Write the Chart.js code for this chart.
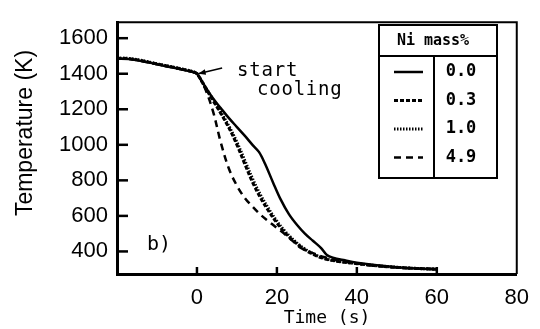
<!DOCTYPE html>
<html>
<head>
<meta charset="utf-8">
<script src="https://cdn.jsdelivr.net/npm/chart.js@4.4.1/dist/chart.umd.min.js"></script>
<style>
  html, body { margin: 0; padding: 0; background: #fff; }
</style>
</head>
<body>
<canvas id="chart" width="540" height="329"></canvas>
<script>
// data
const timeSolid = [-20, -17, -13, -10, -6, -3, -1, 0, 2, 4, 6, 8, 10, 12, 14, 15.5, 17, 19, 21, 23, 25, 27, 29, 31, 32.5, 34, 37, 40, 45, 50, 55, 60];
const tempSolid = [1485, 1483, 1468, 1453, 1435, 1420, 1410, 1400, 1330, 1262, 1205, 1150, 1100, 1050, 997, 960, 895, 790, 690, 610, 550, 500, 460, 420, 380, 365, 350, 337, 322, 311, 304, 300];

const timeNi03 = [-20, -17, -13, -10, -6, -3, -1, 0, 2, 4, 6, 8, 10, 12, 14, 16, 18, 20, 22, 24, 26, 28, 30, 32, 35, 40, 45, 50, 55, 60];
const tempNi03 = [1487, 1485, 1470, 1455, 1437, 1422, 1411, 1400, 1325, 1250, 1175, 1095, 1000, 890, 785, 698, 625, 560, 505, 462, 425, 396, 374, 358, 345, 331, 319, 310, 304, 300];

const timeNi10 = [-20, -17, -13, -10, -6, -3, -1, 0, 2, 4, 6, 8, 10, 12, 14, 16, 18, 20, 22, 24, 26, 28, 30, 32, 35, 40, 45, 50, 55, 60];
const tempNi10 = [1488, 1486, 1471, 1456, 1438, 1423, 1412, 1400, 1328, 1255, 1183, 1105, 1015, 910, 805, 714, 638, 570, 514, 468, 430, 400, 377, 360, 346, 332, 320, 311, 304, 300];

const timeNi49 = [-20, -17, -13, -10, -6, -3, -1, 0, 2, 4, 6, 8, 10, 12, 14, 16, 18, 20, 22, 24, 26, 29, 32, 35, 39, 45, 52, 60];
const tempNi49 = [1485, 1483, 1468, 1453, 1435, 1420, 1410, 1400, 1318, 1190, 1010, 865, 770, 700, 650, 605, 568, 532, 497, 458, 420, 390, 367, 350, 335, 318, 307, 300];

const legendLabels = ['0.0', '0.3', '1.0', '4.9'];
const xTicks = [0, 20, 40, 60, 80];
const yTicks = [400, 600, 800, 1000, 1200, 1400, 1600];

function pts(xs, ys) {
  return xs.map((x, i) => ({ x: x, y: ys[i] }));
}

const styles = [
  { width: 2.5, dash: [] },
  { width: 3, dash: [4, 2] },
  { width: 3, dash: [1.5, 1.5] },
  { width: 2.5, dash: [7, 5] }
];

const series = [pts(timeSolid, tempSolid), pts(timeNi03, tempNi03), pts(timeNi10, tempNi10), pts(timeNi49, tempNi49)];

const datasets = series.map((d, i) => ({
  label: legendLabels[i],
  data: d,
  borderColor: '#000',
  borderWidth: styles[i].width,
  borderDash: styles[i].dash,
  pointRadius: 0,
  tension: 0.35,
  fill: false
}));

const monoFont = '"DejaVu Sans Mono", monospace';
const sansFont = '"Liberation Sans", Arial, sans-serif';

const decorations = {
  id: 'decorations',
  afterDraw(chart) {
    const ctx = chart.ctx;
    const a = chart.chartArea;
    const xs = chart.scales.x, ys = chart.scales.y;
    ctx.save();
    ctx.strokeStyle = '#000';
    ctx.fillStyle = '#000';

    // top and right frame
    ctx.lineWidth = 2;
    ctx.beginPath();
    ctx.moveTo(a.left, a.top);
    ctx.lineTo(a.right, a.top);
    ctx.lineTo(a.right, a.bottom);
    ctx.stroke();

    // inward ticks
    ctx.lineWidth = 2.5;
    yTicks.forEach(v => {
      const py = ys.getPixelForValue(v);
      ctx.beginPath();
      ctx.moveTo(a.left, py);
      ctx.lineTo(a.left + 11, py);
      ctx.stroke();
    });
    xTicks.filter(v => v < 80).forEach(v => {
      const px = xs.getPixelForValue(v);
      ctx.beginPath();
      ctx.moveTo(px, a.bottom);
      ctx.lineTo(px, a.bottom - 7);
      ctx.stroke();
    });

    // axis titles
    ctx.font = '18px ' + monoFont;
    ctx.textAlign = 'center';
    ctx.textBaseline = 'middle';
    ctx.fillText('Time (s)', 327, 318);

    ctx.save();
    ctx.translate(26, 133);
    ctx.rotate(-Math.PI / 2);
    ctx.font = '23px ' + sansFont;
    ctx.fillText('Temperature (K)', 0, 0);
    ctx.restore();

    // start cooling note and arrow
    ctx.font = '19px ' + monoFont;
    ctx.letterSpacing = '0.8px';
    ctx.textAlign = 'left';
    ctx.fillText('start', xs.getPixelForValue(10), ys.getPixelForValue(1415));
    ctx.fillText('cooling', xs.getPixelForValue(15), ys.getPixelForValue(1310));
    ctx.letterSpacing = '0px';

    const tipX = xs.getPixelForValue(0.3), tipY = ys.getPixelForValue(1400);
    const tailX = xs.getPixelForValue(6.3), tailY = ys.getPixelForValue(1432);
    ctx.lineWidth = 1.5;
    ctx.beginPath();
    ctx.moveTo(tailX, tailY);
    ctx.lineTo(tipX, tipY);
    ctx.stroke();
    const ang = Math.atan2(tipY - tailY, tipX - tailX);
    ctx.beginPath();
    ctx.moveTo(tipX, tipY);
    ctx.lineTo(tipX - 8 * Math.cos(ang - 0.35), tipY - 8 * Math.sin(ang - 0.35));
    ctx.lineTo(tipX - 8 * Math.cos(ang + 0.35), tipY - 8 * Math.sin(ang + 0.35));
    ctx.closePath();
    ctx.fill();

    // panel label
    ctx.font = '20px ' + monoFont;
    ctx.fillText('b)', xs.getPixelForValue(-12.5), ys.getPixelForValue(440));

    // legend table
    const L = 379, R = 497, T = 25, B = 178, D = 434, H = 56;
    ctx.fillStyle = '#fff';
    ctx.fillRect(L, T, R - L, B - T);
    ctx.fillStyle = '#000';
    ctx.lineWidth = 2;
    ctx.strokeRect(L, T, R - L, B - T);
    ctx.beginPath();
    ctx.moveTo(L, H);
    ctx.lineTo(R, H);
    ctx.moveTo(D, H);
    ctx.lineTo(D, B);
    ctx.stroke();

    ctx.font = 'bold 15px ' + monoFont;
    ctx.textAlign = 'center';
    ctx.fillText('Ni mass%', 433, 41);

    ctx.font = 'bold 17px ' + monoFont;
    const rowH = 28.5;
    legendLabels.forEach((lab, i) => {
      const cy = 72 + rowH * i;
      ctx.fillText(lab, 461, cy);
      ctx.save();
      ctx.lineWidth = styles[i].width;
      ctx.setLineDash(styles[i].dash);
      ctx.beginPath();
      ctx.moveTo(394, cy);
      ctx.lineTo(423, cy);
      ctx.stroke();
      ctx.restore();
    });

    ctx.restore();
  }
};

new Chart(document.getElementById('chart').getContext('2d'), {
  type: 'line',
  data: { datasets: datasets },
  options: {
    responsive: false,
    animation: false,
    devicePixelRatio: 1,
    layout: { padding: { top: 6, right: 22, left: 0, bottom: 0 } },
    plugins: { legend: { display: false }, tooltip: { enabled: false } },
    scales: {
      x: {
        type: 'linear',
        min: -20,
        max: 80,
        afterFit(scale) { scale.height = 55; },
        afterBuildTicks(scale) { scale.ticks = xTicks.map(v => ({ value: v })); },
        grid: { display: true, drawOnChartArea: false, drawTicks: false },
        border: { display: true, color: '#000', width: 3 },
        ticks: {
          color: '#000',
          padding: 11,
          maxRotation: 0,
          callback: v => String(v),
          font: { family: sansFont, size: 22 }
        }
      },
      y: {
        type: 'linear',
        min: 273,
        max: 1690,
        afterFit(scale) { scale.width = 117; },
        afterBuildTicks(scale) { scale.ticks = yTicks.map(v => ({ value: v })); },
        grid: { display: true, drawOnChartArea: false, drawTicks: false },
        border: { display: true, color: '#000', width: 3 },
        ticks: {
          color: '#000',
          padding: 9,
          callback: v => String(v),
          font: { family: sansFont, size: 22 }
        }
      }
    }
  },
  plugins: [decorations]
});
</script>
</body>
</html>
